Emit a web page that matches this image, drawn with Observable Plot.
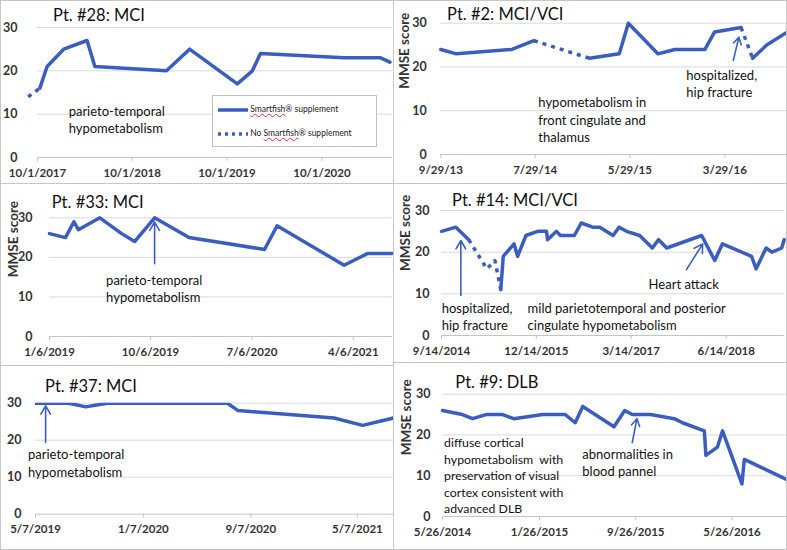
<!DOCTYPE html>
<html><head><meta charset="utf-8">
<script src="https://cdn.jsdelivr.net/npm/d3@7"></script>
<script src="https://cdn.jsdelivr.net/npm/@observablehq/plot@0.6"></script>
<style>
body{margin:0;background:#fff;font-family:Lato,"Open Sans",sans-serif;}
#wrap{position:relative;width:787px;height:550px;overflow:hidden;background:#fff}
.panel{position:absolute;}
.panel svg{position:absolute;left:0;top:0;overflow:visible}
.frame{position:absolute;left:0;top:0;right:0;bottom:0;border:1px solid #c6c6c6;box-sizing:border-box;pointer-events:none}
.title{position:absolute;font-size:16.5px;color:#111;white-space:nowrap;line-height:16px}
.legend{position:absolute;background:#fff;border:1px solid #c0c0c0;box-sizing:border-box;font-size:8.5px;color:#222}
.legend .row{position:absolute;left:0;white-space:nowrap;line-height:10px}
.legend svg{position:static;vertical-align:middle}
.sp{text-decoration:underline wavy #e03030;text-decoration-thickness:1px}
</style></head>
<body><div id="wrap"></div>
<script>
// ---------- data ----------
const pt28Dates = ["2017-08-26","2017-10-10","2017-11-07","2018-01-10","2018-04-10","2018-05-10","2019-02-10","2019-05-10","2019-11-10","2020-01-07","2020-02-07","2020-12-25","2021-05-15","2021-06-20"];
const pt28Scores = [14,16,21,25,27,21,20,25,17,20,24,23,23,22];
const pt28Phase = ["N","N","S","S","S","S","S","S","S","S","S","S","S","S"];
const pt28Ticks = ["2017-10-01","2018-10-01","2019-10-01","2020-10-01"];

const pt2Dates = ["2013-09-29","2013-11-18","2014-05-15","2014-07-25","2015-01-19","2015-04-25","2015-05-24","2015-08-27","2015-10-20","2016-01-25","2016-02-25","2016-05-20","2016-06-26","2016-08-10","2016-10-16"];
const pt2Scores = [24,23,24,26,22,23,30,23,24,24,28,29,22,25,28];
const pt2Phase = ["S","S","S","S","N","S","S","S","S","S","S","S","N","S","S"];
const pt2Ticks = ["2013-09-29","2014-07-29","2015-05-29","2016-03-29"];

const pt33Dates = ["2019-01-06","2019-02-18","2019-03-13","2019-03-25","2019-05-22","2019-07-20","2019-08-24","2019-10-17","2020-01-18","2020-08-09","2020-09-12","2021-03-12","2021-05-15","2021-07-20"];
const pt33Scores = [26,25,29,27,30,26,24,30,25,22,28,18,21,21];
const pt33Ticks = ["2019-01-06","2019-10-06","2020-07-06","2021-04-06"];

const pt14Dates = ["2014-09-14","2014-11-22","2015-01-23","2015-04-20","2015-05-29","2015-06-26","2015-07-08","2015-08-29","2015-09-15","2015-10-25","2015-12-20","2016-02-01","2016-02-06","2016-03-20","2016-04-08","2016-06-14","2016-07-17","2016-09-10","2016-10-14","2016-12-17","2017-01-15","2017-02-20","2017-04-24","2017-06-24","2017-07-24","2017-09-01","2018-02-16","2018-04-20","2018-05-27","2018-10-14","2018-11-05","2018-12-23","2019-01-20","2019-03-08","2019-03-20"];
const pt14Scores = [25,26,23,16,18,11,19,22,19,24,25,25,23,25,24,24,27,26,26,24,26,25,24,21,23,21,24,18,22,19,16,21,20,21,23];
const pt14Phase = ["S","S","S","N","N","N","S","S","S","S","S","S","S","S","S","S","S","S","S","S","S","S","S","S","S","S","S","S","S","S","S","S","S","S","S"];
const pt14Ticks = ["2014-09-14","2015-12-14","2017-03-14","2018-06-14"];

const pt37Dates = ["2019-05-07","2019-07-22","2019-08-29","2019-10-17","2020-07-16","2020-08-09","2021-03-15","2021-05-19","2021-07-28"];
const pt37Scores = [30,30,29,30,30,28,26,24,26];
const pt37Ticks = ["2019-05-07","2020-01-07","2020-09-07","2021-05-07"];

const pt9Dates = ["2014-05-26","2014-07-15","2014-08-10","2014-09-13","2014-10-25","2014-11-22","2015-02-03","2015-04-01","2015-04-26","2015-05-15","2015-08-02","2015-08-29","2015-09-17","2015-11-02","2016-01-01","2016-01-22","2016-03-17","2016-03-21","2016-04-19","2016-05-02","2016-06-20","2016-06-26","2016-10-13"];
const pt9Scores = [26,25,24,25,25,24,25,25,23,27,22,26,25,25,24,23,21,15,17,21,8,14,9];
const pt9Ticks = ["2014-05-26","2015-01-26","2015-09-26","2016-05-26"];

const scoreTicks = [0,10,20,30];

const pt28Notes = [{date:"2018-01-29", score:8.9, text:"parieto-temporal\nhypometabolism"}];
const pt2Notes = [{date:"2015-11-26", score:16.4, text:"hospitalized,\nhip fracture"},
                  {date:"2014-08-08", score:8.1, text:"hypometabolism in\nfront cingulate and\nthalamus"}];
const pt2Arrows = [{from:["2016-04-25",21.5], to:["2016-05-13",26.8]}];
const pt33Notes = [{date:"2019-06-08", score:12.3, text:"parieto-temporal\nhypometabolism"}];
const pt33Arrows = [{from:["2019-10-17",18.4], to:["2019-10-17",28.9]}];
const pt14Notes = [{date:"2014-09-15", score:4.7, text:"hospitalized,\nhip fracture"},
                   {date:"2015-11-02", score:4.7, text:"mild parietotemporal and posterior\ncingulate hypometabolism"},
                   {date:"2017-06-06", score:12.6, text:"Heart attack"}];
const pt14Arrows = [{from:["2014-12-16",9.6], to:["2014-12-16",22.8]},
                    {from:["2017-12-05",15.8], to:["2018-02-21",22.0]}];
const pt37Notes = [{date:"2019-04-20", score:14.0, text:"parieto-temporal\nhypometabolism"}];
const pt37Arrows = [{from:["2019-05-30",19.4], to:["2019-05-30",29.3]}];
const pt9Notes = [{date:"2014-05-30", score:10.2, size:12.3, text:"diffuse cortical\nhypometabolism  with\npreservation of visual\ncortex consistent with\nadvanced DLB"},
                  {date:"2015-05-14", score:13.3, text:"abnormalities in\nblood pannel"}];
const pt9Arrows = [{from:["2015-09-17",18.1], to:["2015-09-29",24.0]}];

// ---------- drawing ----------
const parse = d3.utcParse("%Y-%m-%d");
const BLUE = "#3A5DBF";

function buildRows(dates, scores, phases) {
  const rows = [];
  let run = -1, prev = null;
  for (let i = 1; i < dates.length; i++) {
    const p = phases ? phases[i] : "S";
    if (p !== prev) { run++; rows.push({date: parse(dates[i-1]), score: scores[i-1], run, phase: p}); prev = p; }
    rows.push({date: parse(dates[i]), score: scores[i], run, phase: p});
  }
  return rows;
}

function makePanel(cfg) {
  const rows = buildRows(cfg.dates, cfg.scores, cfg.phases);
  const notes = cfg.notes || [], arrows = cfg.arrows || [];
  const marks = [
    Plot.gridY([10,20,30], {stroke:"#d9d9d9", strokeOpacity:1, strokeWidth:1}),
    Plot.ruleY([0], {stroke:"#c4c4c4"}),
    Plot.axisY(scoreTicks, {tickSize:0, tickPadding:cfg.yPad, fontSize:12.5, fontWeight:"bold", fill:"#333", label:null}),
    Plot.axisX(cfg.ticks.map(parse), {tickSize:4, stroke:"#c4c4c4", tickPadding:7, tickFormat:d3.utcFormat(cfg.fmt), fontSize:11.5, fontWeight:"bold", fill:"#333", label:null}),
    Plot.line(rows.filter(d => d.phase === "S"), {x:"date", y:"score", z:"run", stroke:BLUE, strokeWidth:3.5, clip:!!cfg.clip}),
    Plot.line(rows.filter(d => d.phase === "N"), {x:"date", y:"score", z:"run", stroke:BLUE, strokeWidth:3.5, strokeDasharray:"4,5", strokeLinecap:"butt"}),
    Plot.arrow(arrows, {x1: d => parse(d.from[0]), y1: d => d.from[1], x2: d => parse(d.to[0]), y2: d => d.to[1], stroke:BLUE, strokeWidth:1.6, headLength:9}),
    Plot.text(notes, {x: d => parse(d.date), y:"score", text:"text", textAnchor:"start", lineAnchor:"middle", lineHeight:1.33, fontSize: d => d.size || 13, fill:"#111"})
  ];
  if (cfg.yLabel) marks.push(Plot.text([cfg.yLabel], {frameAnchor:"left", rotate:-90, dx:-36, dy:cfg.yLabelDy || 0, fontSize:13.5, fontWeight:"bold", fill:"#333"}));
  const chart = Plot.plot({
    width: cfg.w, height: cfg.h,
    marginLeft: cfg.m[0], marginRight: cfg.m[1], marginTop: cfg.m[2], marginBottom: cfg.m[3],
    x: {type:"utc", domain: cfg.domain.map(parse)},
    y: {domain:[0,30]},
    style: {fontFamily:"Lato, 'Open Sans', sans-serif", background:"transparent", overflow:"visible"},
    marks
  });
  const div = document.createElement("div");
  div.className = "panel";
  Object.assign(div.style, {left: cfg.pos[0] + "px", top: cfg.pos[1] + "px", width: cfg.w + "px", height: cfg.h + "px"});
  div.appendChild(chart);
  const t = document.createElement("div");
  t.className = "title";
  t.textContent = cfg.title;
  Object.assign(t.style, {left: cfg.titlePos[0] + "px", top: cfg.titlePos[1] + "px"});
  div.appendChild(t);
  if (cfg.extra) div.appendChild(cfg.extra());
  const f = document.createElement("div");
  f.className = "frame";
  div.appendChild(f);
  document.getElementById("wrap").appendChild(div);
}

function legend() {
  const L = document.createElement("div");
  L.className = "legend";
  Object.assign(L.style, {left:"212px", top:"95px", width:"165px", height:"52px"});
  L.innerHTML =
    `<div class="row" style="top:8px;left:5px"><svg width="30" height="6"><line x1="0" x2="30" y1="3" y2="3" stroke="${BLUE}" stroke-width="3.5"/></svg> <span class="sp">Smartfish</span>® supplement</div>` +
    `<div class="row" style="top:32px;left:5px"><svg width="30" height="6"><line x1="0" x2="30" y1="3" y2="3" stroke="${BLUE}" stroke-width="3.5" stroke-dasharray="3,4"/></svg> No <span class="sp">Smartfish</span>® supplement</div>`;
  return L;
}

makePanel({pos:[0,0], w:394, h:184, m:[37,2,27,27], domain:["2017-10-01","2021-06-30"], ticks:pt28Ticks, fmt:"%-m/%-d/%Y",
  dates:pt28Dates, scores:pt28Scores, phases:pt28Phase, yPad:20, title:"Pt. #28: MCI", titlePos:[53,6.6], notes:pt28Notes, extra:legend});
makePanel({pos:[393,0], w:394, h:184, m:[47.3,0,22.7,30], domain:["2013-09-29","2016-10-16"], ticks:pt2Ticks, fmt:"%-m/%-d/%y",
  dates:pt2Dates, scores:pt2Scores, phases:pt2Phase, yPad:14, yLabel:"MMSE score", title:"Pt. #2: MCI/VCI", titlePos:[54,5.6], notes:pt2Notes, arrows:pt2Arrows});
makePanel({pos:[0,183], w:394, h:183, m:[49,2.3,34.3,30], domain:["2019-01-06","2021-07-20"], ticks:pt33Ticks, fmt:"%-m/%-d/%Y",
  dates:pt33Dates, scores:pt33Scores, yPad:17, yLabel:"MMSE score", title:"Pt. #33: MCI", titlePos:[51.7,11], notes:pt33Notes, arrows:pt33Arrows});
makePanel({pos:[393,183], w:394, h:180, m:[48,3.3,27,28], domain:["2014-09-14","2019-03-20"], ticks:pt14Ticks, fmt:"%-m/%-d/%Y",
  dates:pt14Dates, scores:pt14Scores, phases:pt14Phase, yPad:12, yLabel:"MMSE score", yLabelDy:-2, title:"Pt. #14: MCI/VCI", titlePos:[59,9.3], notes:pt14Notes, arrows:pt14Arrows});
makePanel({pos:[0,365], w:394, h:185, m:[35,1,37.7,36.3], domain:["2019-05-07","2021-07-28"], ticks:pt37Ticks, fmt:"%-m/%-d/%Y",
  dates:pt37Dates, scores:pt37Scores, clip:true, yPad:14, title:"Pt. #37: MCI", titlePos:[45,12.6], notes:pt37Notes, arrows:pt37Arrows});
makePanel({pos:[393,362], w:394, h:188, m:[49,0,31.7,34], domain:["2014-05-26","2016-10-13"], ticks:pt9Ticks, fmt:"%-m/%-d/%Y",
  dates:pt9Dates, scores:pt9Scores, yPad:12, yLabel:"MMSE score", title:"Pt. #9: DLB", titlePos:[62.3,12.3], notes:pt9Notes, arrows:pt9Arrows});
</script>
</body></html>
